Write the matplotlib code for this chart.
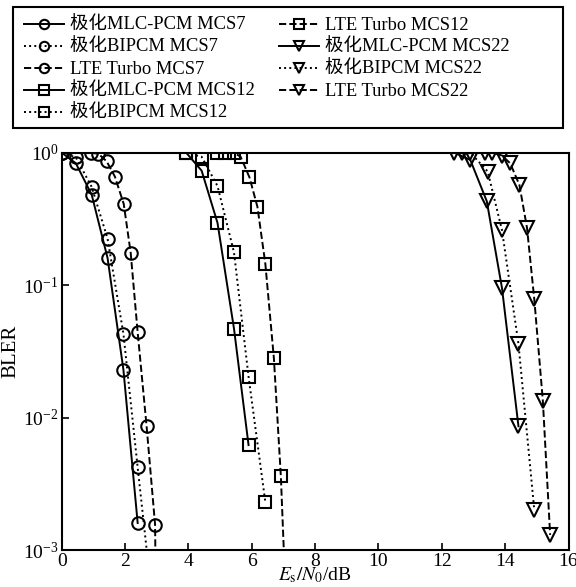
import matplotlib
matplotlib.use("Agg")
import matplotlib.pyplot as plt
from matplotlib.ticker import LogLocator, NullLocator
from matplotlib.patches import Rectangle

plt.rcParams['font.family'] = ['Liberation Serif', 'Noto Sans CJK SC']
plt.rcParams['mathtext.fontset'] = 'stix'

# MCS7 (circles)
x_mlc7 = [0, 0.45, 0.95, 1.45, 1.95, 2.4]
y_mlc7 = [1, 0.83, 0.48, 0.16, 0.023, 0.0016]
x_bi7 = [0, 0.45, 0.95, 1.45, 1.95, 2.4, 2.9]
y_bi7 = [1, 0.92, 0.55, 0.224, 0.043, 0.0042, 0.00034]
x_lte7 = [0.92, 1.16, 1.42, 1.68, 1.96, 2.18, 2.4, 2.68, 2.95, 3.0]
y_lte7 = [1, 0.98, 0.86, 0.66, 0.41, 0.175, 0.044, 0.0087, 0.00155, 0.0001]

# MCS12 (squares)
x_mlc12 = [3.93, 4.42, 4.92, 5.44, 5.9]
y_mlc12 = [1, 0.73, 0.295, 0.047, 0.0062]
x_bi12 = [3.93, 4.42, 4.92, 5.44, 5.9, 6.43]
y_bi12 = [1, 0.93, 0.56, 0.177, 0.0204, 0.0023]
x_lte12 = [4.9, 5.16, 5.44, 5.65, 5.93, 6.18, 6.43, 6.7, 6.92, 7.1]
y_lte12 = [1, 1, 1, 0.93, 0.65, 0.39, 0.145, 0.028, 0.0036, 0.0003]

# MCS22 (triangles)
x_mlc22 = [12.4, 12.9, 13.42, 13.9, 14.42]
y_mlc22 = [1, 0.88, 0.43, 0.095, 0.0086]
x_bi22 = [12.65, 12.9, 13.45, 13.9, 14.42, 14.92]
y_bi22 = [1, 1, 0.72, 0.26, 0.036, 0.002]
x_lte22 = [13.37, 13.6, 13.9, 14.16, 14.45, 14.69, 14.92, 15.19, 15.42]
y_lte22 = [1, 1, 0.95, 0.83, 0.57, 0.27, 0.078, 0.0134, 0.0013]

labels = ['极化MLC-PCM MCS7', '极化BIPCM MCS7', 'LTE Turbo MCS7',
          '极化MLC-PCM MCS12', '极化BIPCM MCS12', 'LTE Turbo MCS12',
          '极化MLC-PCM MCS22', '极化BIPCM MCS22', 'LTE Turbo MCS22']

fig = plt.figure(figsize=(5.76, 5.87), dpi=100)
ax = fig.add_axes([0.107, 0.063, 0.880, 0.677])

series = [(x_mlc7, y_mlc7, '-', 'o'), (x_bi7, y_bi7, ':', 'o'), (x_lte7, y_lte7, '--', 'o'),
          (x_mlc12, y_mlc12, '-', 's'), (x_bi12, y_bi12, ':', 's'), (x_lte12, y_lte12, '--', 's'),
          (x_mlc22, y_mlc22, '-', 'v'), (x_bi22, y_bi22, ':', 'v'), (x_lte22, y_lte22, '--', 'v')]

handles = []
for (xs, ys, ls, mk), lab in zip(series, labels):
    ms = 9 if mk != 'v' else 10
    h, = ax.semilogy(xs, ys, linestyle=ls, marker=mk, color='black', lw=1.4,
                     markersize=ms, markerfacecolor='none', markeredgewidth=1.5,
                     label=lab)
    handles.append(h)

ax.set_xlim(0, 16)
ax.set_ylim(1e-3, 1)
ax.set_xticks(range(0, 17, 2))
ax.yaxis.set_major_locator(LogLocator(base=10, numticks=10))
ax.yaxis.set_minor_locator(NullLocator())
ax.tick_params(direction='in', length=5, width=1.2, labelsize=14, pad=2)
for s in ax.spines.values():
    s.set_linewidth(1.5)

ax.set_xlabel(r'$E_\mathrm{s}/N_0$/dB', fontsize=14, labelpad=-3)
ax.set_ylabel('BLER', fontsize=15, labelpad=2)

# legend box drawn separately so it spans the width like the original
fig.patches.append(Rectangle((0.0226, 0.782), 0.955, 0.206, transform=fig.transFigure,
                             fill=False, edgecolor='black', linewidth=1.5))
leg = fig.legend(handles=handles, ncol=2, loc='upper left',
                 bbox_to_anchor=(0.041, 0.971),
                 fontsize=13.3, frameon=False, markerscale=0.75,
                 handlelength=2.2, handletextpad=0.3, labelspacing=0.27,
                 columnspacing=1.3, borderpad=0, borderaxespad=0)

fig.savefig('out.png', dpi=100)
